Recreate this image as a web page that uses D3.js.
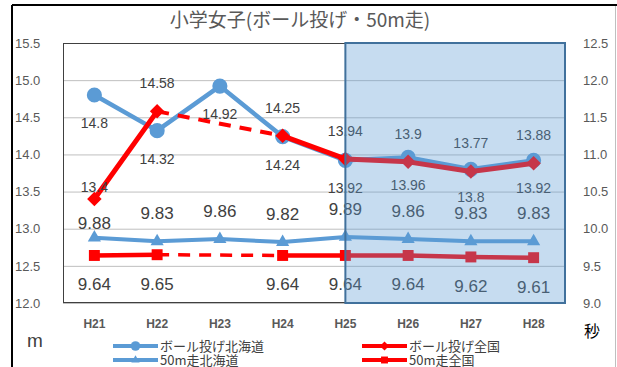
<!DOCTYPE html>
<html lang="ja">
<head>
<meta charset="UTF-8">
<title>小学女子(ボール投げ・50m走)</title>
<style>
    body { margin:0; background:#fff; }
    svg { display:block; font-family:"Liberation Sans","Noto Sans CJK JP",sans-serif; }
    .axis text { fill:#595959; font-size:13px; }
    .xaxis text { fill:#595959; font-size:12px; font-weight:bold; }
    .grid line { stroke:#bfbfbf; }
    .lbl { fill:#404040; text-anchor:middle; }
    .jp { font-family:"Noto Sans CJK JP",sans-serif; }
</style>
</head>
<body>
<script src="https://cdn.jsdelivr.net/npm/d3@7/dist/d3.min.js"></script>
<script>
    // data
    var categories = ["H21","H22","H23","H24","H25","H26","H27","H28"];
    var ballHokkaido = [14.8, 14.32, 14.92, 14.24, 13.92, 13.96, 13.8, 13.92];
    var ballZenkoku = [13.4, 14.58, null, 14.25, 13.94, 13.9, 13.77, 13.88];
    var runHokkaido = [9.88, 9.83, 9.86, 9.82, 9.89, 9.86, 9.83, 9.83];
    var runZenkoku = [9.64, 9.65, null, 9.64, 9.64, 9.64, 9.62, 9.61];
    var leftTicks = [12.0, 12.5, 13.0, 13.5, 14.0, 14.5, 15.0, 15.5];
    var rightTicks = [9.0, 9.5, 10.0, 10.5, 11.0, 11.5, 12.0, 12.5];
    var seriesNames = ["ボール投げ北海道","ボール投げ全国","50m走北海道","50m走全国"];
    var highlightFrom = "H25";

    var W = 617, H = 367;
    var pLeft = 63, pRight = 565, pTop = 43, pBottom = 303;
    var blue = "#5b9bd5", red = "#ff0000";

    var svg = d3.select("body").append("svg").attr("width", W).attr("height", H);

    // outer frame
    svg.append("line").attr("x1",12).attr("x2",W).attr("y1",5).attr("y2",5).attr("stroke","#000").attr("stroke-width",2);
    svg.append("line").attr("x1",12).attr("x2",12).attr("y1",5).attr("y2",H).attr("stroke","#000").attr("stroke-width",2);
    svg.append("line").attr("x1",615.5).attr("x2",615.5).attr("y1",6).attr("y2",H).attr("stroke","#bfbfbf").attr("stroke-width",1);

    // title
    svg.append("text").attr("class","jp").attr("x",300).attr("y",27)
        .attr("text-anchor","middle").attr("font-size","19px").attr("fill","#595959")
        .text("小学女子(ボール投げ・50m走)");

    var x = d3.scaleBand().domain(categories).range([pLeft, pRight]);
    var cx = function (c) { return x(c) + x.bandwidth() / 2; };
    var yL = d3.scaleLinear().domain([12, 15.5]).range([pBottom, pTop]);
    var yR = d3.scaleLinear().domain([9, 12.5]).range([pBottom, pTop]);

    // grid
    svg.append("g").attr("class","grid").attr("transform","translate("+pLeft+",0)")
        .call(d3.axisLeft(yL).tickValues(leftTicks).tickSize(-(pRight-pLeft)).tickFormat(""))
        .call(function (g) { g.select(".domain").remove(); });
    svg.append("rect").attr("x",pLeft+0.5).attr("y",pTop+0.5).attr("width",pRight-pLeft-1).attr("height",pBottom-pTop-1)
        .attr("fill","none").attr("stroke","#404040").attr("stroke-width",1);

    // left axis labels
    svg.append("g").attr("class","axis").attr("transform","translate(15,0)")
        .call(d3.axisLeft(yL).tickValues(leftTicks).tickSize(0).tickFormat(d3.format(".1f")))
        .call(function (g) {
            g.select(".domain").remove();
            g.selectAll("text").attr("x",0).attr("text-anchor","start");
        });
    // right axis labels
    svg.append("g").attr("class","axis").attr("transform","translate(583,0)")
        .call(d3.axisRight(yR).tickValues(rightTicks).tickSize(0).tickFormat(d3.format(".1f")))
        .call(function (g) {
            g.select(".domain").remove();
            g.selectAll("text").attr("x",0).attr("text-anchor","start");
        });
    // x axis
    svg.append("g").attr("class","xaxis").attr("transform","translate(0,"+pBottom+")")
        .call(d3.axisBottom(x).tickSize(0))
        .call(function (g) {
            g.select(".domain").remove();
            g.selectAll("text").attr("y",25).attr("dy",null);
        });

    // units
    svg.append("text").attr("x",27).attr("y",347).attr("font-size","19px").attr("fill","#404040").text("m");
    svg.append("text").attr("class","jp").attr("x",584).attr("y",337).attr("font-size","16px").attr("fill","#000").text("秒");

    var symbols = {
        circle: { type: d3.symbolCircle, size: 180, rot: 0 },
        diamond: { type: d3.symbolSquare, size: 105, rot: 45 },
        triangle: { type: d3.symbolTriangle, size: 75, rot: 0 },
        square: { type: d3.symbolSquare, size: 120, rot: 0 }
    };

    // series drawing
    var series = [
        { name: seriesNames[0], values: ballHokkaido, y: yL, color: blue, width: 4.5, sym: "circle", dy: 28, fs: 14 },
        { name: seriesNames[1], values: ballZenkoku, y: yL, color: red, width: 5, sym: "diamond", dy: -28, fs: 14 },
        { name: seriesNames[2], values: runHokkaido, y: yR, color: blue, width: 4, sym: "triangle", dy: -28, fs: 17 },
        { name: seriesNames[3], values: runZenkoku, y: yR, color: red, width: 4.5, sym: "square", dy: 29, fs: 17 }
    ];
    // hand-placed labels in the original
    var nudge = { "ボール投げ全国|H21": 16, "50m走北海道|H21": 13 };

    var gLines = svg.append("g");
    series.forEach(function (s) {
        var pts = categories.map(function (c, i) { return { c: c, v: s.values[i] }; });
        var line = d3.line().defined(function (d) { return d.v != null; })
            .x(function (d) { return cx(d.c); }).y(function (d) { return s.y(d.v); });
        gLines.append("path").datum(pts).attr("d", line).attr("fill","none")
            .attr("stroke", s.color).attr("stroke-width", s.width).attr("stroke-linejoin","round");
        // dashed bridge over gaps
        pts.forEach(function (d, i) {
            if (d.v == null) {
                var a = i - 1, b = i + 1;
                while (a >= 0 && pts[a].v == null) a--;
                while (b < pts.length && pts[b].v == null) b++;
                if (a >= 0 && b < pts.length) {
                    gLines.append("path").datum([pts[a], pts[b]]).attr("d", d3.line()
                        .x(function (p) { return cx(p.c); }).y(function (p) { return s.y(p.v); }))
                        .attr("fill","none").attr("stroke", s.color).attr("stroke-width", s.width - 1)
                        .attr("stroke-dasharray","12,9");
                }
            }
        });
        var sy = symbols[s.sym];
        gLines.selectAll(null).data(pts.filter(function (d) { return d.v != null; })).enter()
            .append("path")
            .attr("d", d3.symbol().type(sy.type).size(sy.size))
            .attr("transform", function (d) { return "translate(" + cx(d.c) + "," + s.y(d.v) + ") rotate(" + sy.rot + ")"; })
            .attr("fill", s.color);
        s.pts = pts;
    });

    // data labels
    var gLbl = svg.append("g");
    series.forEach(function (s) {
        gLbl.selectAll(null).data(s.pts.filter(function (d) { return d.v != null; })).enter()
            .append("text").attr("class","lbl")
            .attr("font-size", s.fs + "px")
            .attr("x", function (d) { return cx(d.c); })
            .attr("y", function (d) {
                var dy = s.dy + (nudge[s.name + "|" + d.c] || 0);
                return s.y(d.v) + dy + s.fs * 0.35;
            })
            .text(function (d) { return d.v; });
    });

    // highlighted period box (drawn over everything)
    svg.append("rect").attr("x", cx(highlightFrom)).attr("y", pTop)
        .attr("width", pRight - cx(highlightFrom)).attr("height", pBottom - pTop)
        .attr("fill", blue).attr("fill-opacity", 0.35)
        .attr("stroke", "#41719c").attr("stroke-width", 2);

    // legend
    var legendPos = [[113, 346], [362, 346], [113, 360], [362, 360]];
    var lg = svg.append("g");
    series.forEach(function (s, i) {
        var p = legendPos[i];
        var g = lg.append("g").attr("transform","translate(" + p[0] + "," + p[1] + ")");
        g.append("line").attr("x1",0).attr("x2",45).attr("stroke", s.color).attr("stroke-width", 4);
        var sy = symbols[s.sym];
        g.append("path").attr("d", d3.symbol().type(sy.type).size(sy.size * 0.4))
            .attr("transform","translate(22.5,0) rotate(" + sy.rot + ")").attr("fill", s.color);
        g.append("text").attr("class","jp").attr("x",47).attr("y",5).attr("font-size","13px")
            .attr("fill","#404040").text(s.name);
    });
</script>
</body>
</html>
